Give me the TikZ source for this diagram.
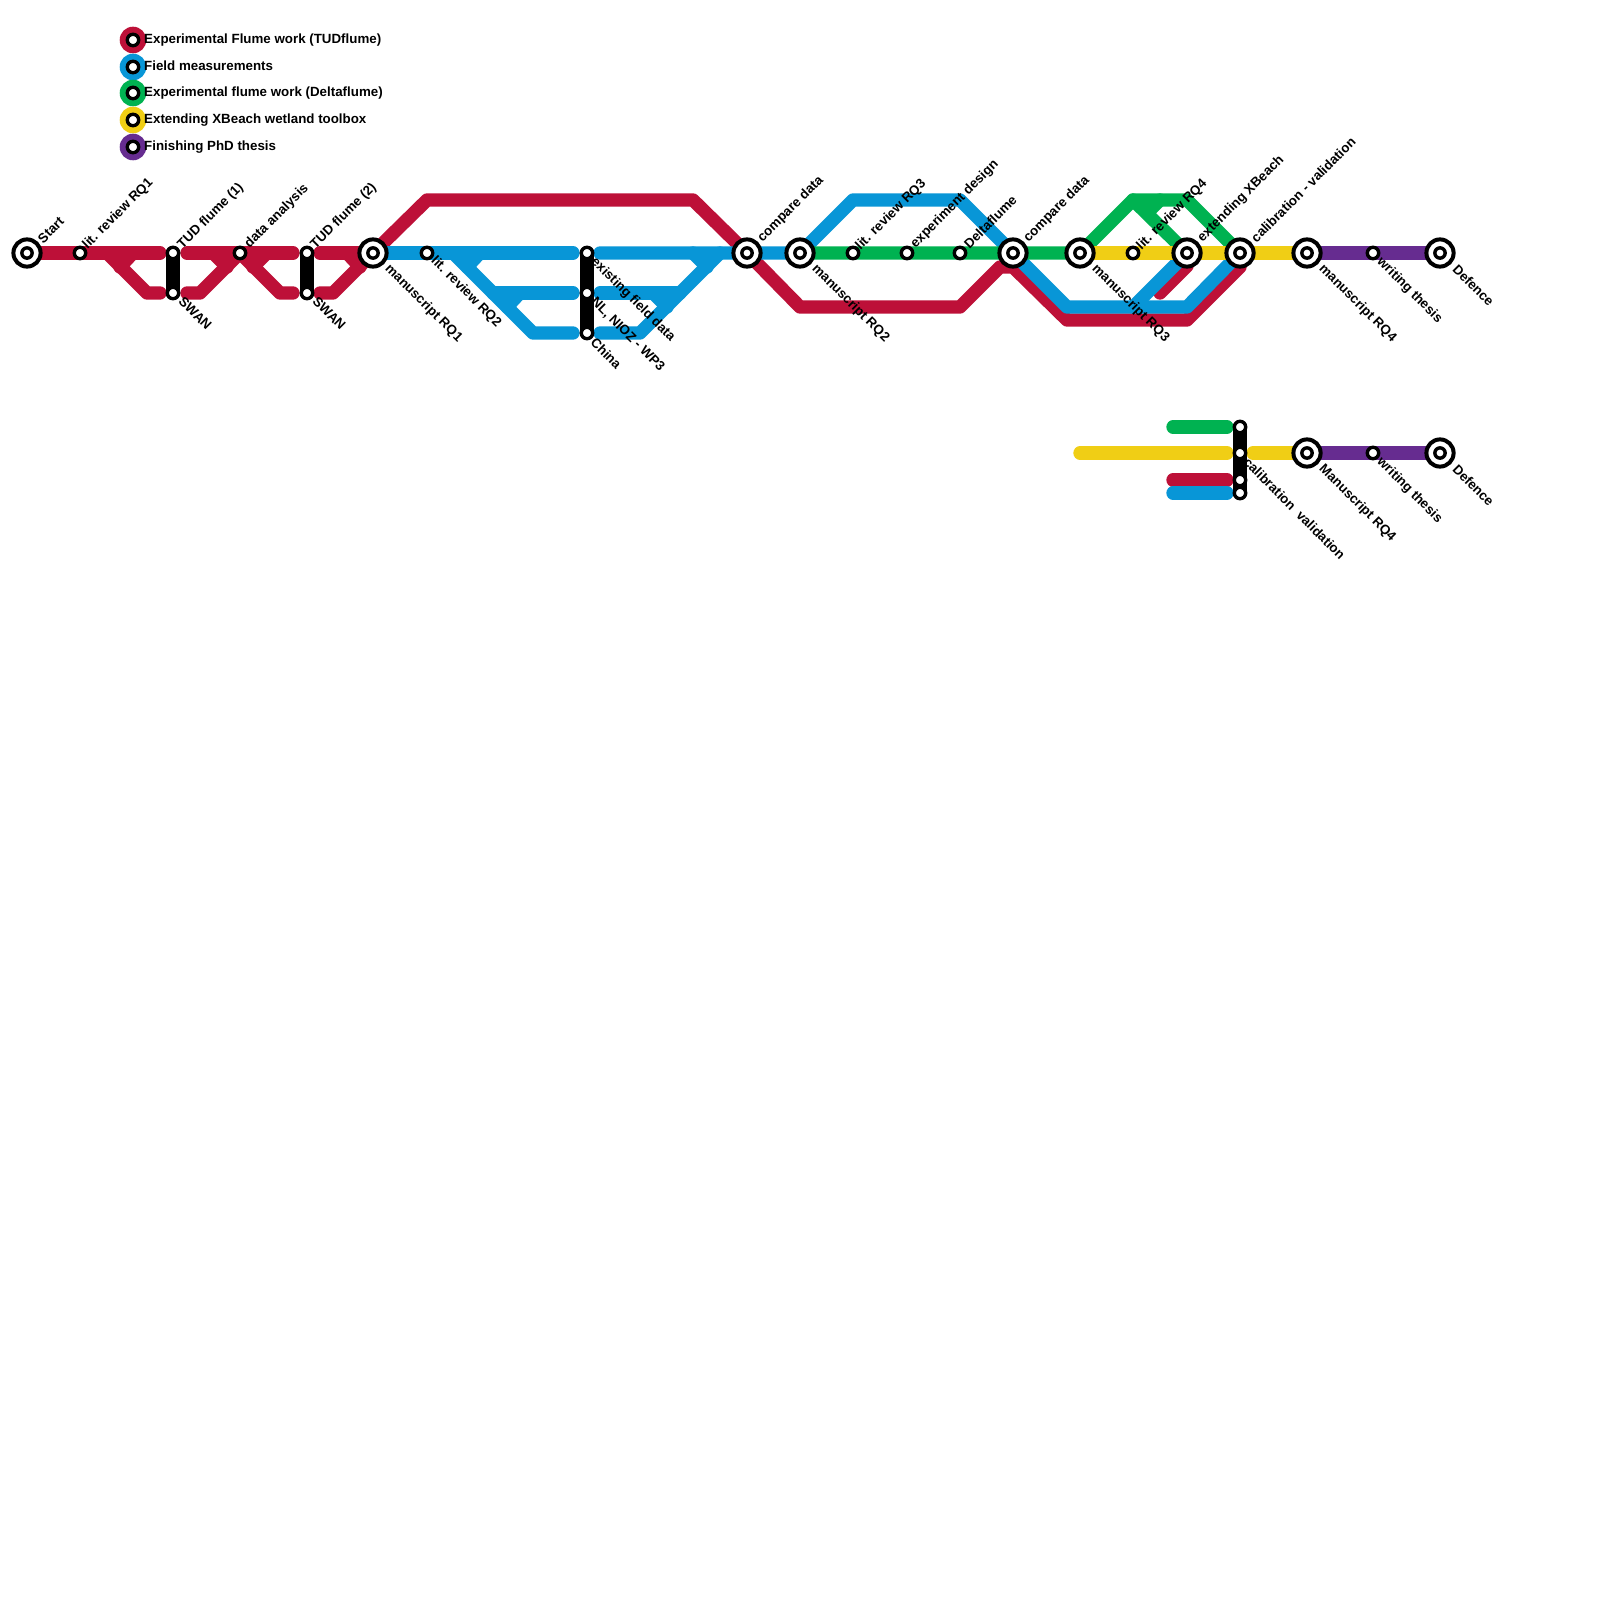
\documentclass[tikz,border=0pt]{standalone}
\usepackage{fontspec}
\setmainfont{Liberation Sans}
\definecolor{rd}{HTML}{BD1038}
\definecolor{bl}{HTML}{0896D7}
\definecolor{gr}{HTML}{00B251}
\definecolor{ye}{HTML}{F0CE15}
\definecolor{pu}{HTML}{662C90}
\pgfdeclarelayer{bg}
\pgfsetlayers{bg,main}
\tikzset{
 hub/.style={circle,draw=black,fill=white,line width=4pt,minimum size=27.2pt,inner sep=0pt,
  path picture={\fill[black] (path picture bounding box.center) circle[radius=6.9pt];
                \fill[white] (path picture bounding box.center) circle[radius=3.4pt];}},
 stop/.style={circle,draw=black,fill=white,line width=3.4pt,minimum size=11.4pt,inner sep=0pt},
 route/.style={line width=13.33pt,line cap=round,line join=round},
 bar/.style={line width=13.33pt,line cap=round,draw=black},
 chip/.style={circle,minimum size=26.6pt,inner sep=0pt},
 lbl/.style={font=\bfseries\fontsize{13.33pt}{14pt}\selectfont,text=black,inner sep=0pt},
 up/.style={lbl,rotate=45,anchor=west},
 dn/.style={lbl,rotate=-45,anchor=west},
 key/.style={lbl,anchor=west}
}
\begin{document}
\begin{tikzpicture}[x=1pt,y=-1pt]
\useasboundingbox (0,0) rectangle (1600,1600);
% legend
\foreach \n/\c/\y/\ty/\t in {a/rd/40/40/Experimental Flume work (TUDflume),b/bl/67/66/Field measurements,c/gr/93/93/Experimental flume work (Deltaflume),d/ye/120/120/Extending XBeach wetland toolbox,e/pu/147/147/Finishing PhD thesis}{
 \node[chip,fill=\c] (chip\n) at (133,\y) {};
 \node[stop] (dot\n) at (133,\y) {};
 \node[key] (key\n) at (144,\ty) {\t};
}
% upper-row stations
\node[hub]  (start) at (27,253) {};
\node[stop] (lit1) at (80,253) {};
\node[stop] (tud1) at (173,253) {};
\node[stop] (swan1) at (173,293) {};
\node[stop] (data) at (240,253) {};
\node[stop] (tud2) at (307,253) {};
\node[stop] (swan2) at (307,293) {};
\node[hub]  (ms1) at (373,253) {};
\node[stop] (lit2) at (427,253) {};
\node[stop] (field) at (587,253) {};
\node[stop] (nioz) at (587,293) {};
\node[stop] (china) at (587,333) {};
\node[hub]  (cmp1) at (747,253) {};
\node[hub]  (ms2) at (800,253) {};
\node[stop] (lit3) at (853,253) {};
\node[stop] (expd) at (907,253) {};
\node[stop] (delta) at (960,253) {};
\node[hub]  (cmp2) at (1013,253) {};
\node[hub]  (ms3) at (1080,253) {};
\node[stop] (lit4) at (1133,253) {};
\node[hub]  (xb) at (1187,253) {};
\node[hub]  (cal) at (1240,253) {};
\node[hub]  (ms4) at (1307,253) {};
\node[stop] (wri) at (1373,253) {};
\node[hub]  (def) at (1440,253) {};
% lower-row stations
\node[stop] (lg) at (1240,427) {};
\node[stop] (ly) at (1240,453) {};
\node[stop] (lr) at (1240,480) {};
\node[stop] (lb) at (1240,493) {};
\node[hub]  (lms) at (1307,453) {};
\node[stop] (lwri) at (1373,453) {};
\node[hub]  (ldef) at (1440,453) {};
% labels
\node[up] (tStart) at ([shift={(13,-12)}]start.center) {Start};
\node[up] (tLit1) at ([shift={(5,-6)}]lit1.center) {lit. review RQ1};
\node[up] (tTud1) at ([shift={(7,-6)}]tud1.center) {TUD flume (1)};
\node[up] (tData) at ([shift={(7,-7)}]data.center) {data analysis};
\node[up] (tTud2) at ([shift={(6,-6)}]tud2.center) {TUD flume (2)};
\node[up] (tCmp1) at ([shift={(13,-13)}]cmp1.center) {compare data};
\node[up] (tLit3) at ([shift={(5,-5)}]lit3.center) {lit. review RQ3};
\node[up] (tExp) at ([shift={(6,-7)}]expd.center) {experiment design};
\node[up] (tDel) at ([shift={(6,-7)}]delta.center) {Deltaflume};
\node[up] (tCmp2) at ([shift={(13,-13)}]cmp2.center) {compare data};
\node[up] (tLit4) at ([shift={(6,-5)}]lit4.center) {lit. review RQ4};
\node[up] (tXb) at ([shift={(13,-13)}]xb.center) {extending XBeach};
\node[up] (tCal) at ([shift={(13,-13)}]cal.center) {calibration - validation};
\node[dn] (tSw1) at ([shift={(8,6)}]swan1.center) {SWAN};
\node[dn] (tSw2) at ([shift={(8,6)}]swan2.center) {SWAN};
\node[dn] (tMs1) at ([shift={(14,14)}]ms1.center) {manuscript RQ1};
\node[dn] (tLit2) at ([shift={(6,6)}]lit2.center) {lit. review RQ2};
\node[dn] (tFld) at ([shift={(6,7)}]field.center) {existing field data};
\node[dn] (tNl) at ([shift={(6,7)}]nioz.center) {NL, NIOZ - WP3};
\node[dn] (tCh) at ([shift={(6,7)}]china.center) {China};
\node[dn] (tMs2) at ([shift={(14,14)}]ms2.center) {manuscript RQ2};
\node[dn] (tMs3) at ([shift={(14,14)}]ms3.center) {manuscript RQ3};
\node[dn] (tMs4) at ([shift={(14,14)}]ms4.center) {manuscript RQ4};
\node[dn] (tWr) at ([shift={(6,7)}]wri.center) {writing thesis};
\node[dn] (tDf) at ([shift={(15,14)}]def.center) {Defence};
\node[dn] (tLc) at ([shift={(6,7)}]ly.center) {calibration\ \ validation};
\node[dn] (tLm) at ([shift={(14,14)}]lms.center) {Manuscript RQ4};
\node[dn] (tLw) at ([shift={(6,7)}]lwri.center) {writing thesis};
\node[dn] (tLd) at ([shift={(15,14)}]ldef.center) {Defence};
% waypoints
\foreach \n/\x/\y in {
 r1/160/253,r2/107/253,r3/147/293,r4/160/293,r5/187/253,r6/293/253,r7/187/293,r8/200/293,
 r9/280/293,r10/293/293,r11/320/253,r12/320/293,r13/333/293,r14/427/200,r15/693/200,
 r16/800/307,r17/960/307,r18/1000/267,r19/1013/267,r20/1067/320,r21/1187/320,r22/1240/267,
 r23/1160/293,r24/1187/266,
 ra1/120/267,ra2/133/253,ra3/213/253,ra4/227/267,ra5/253/267,ra6/267/253,ra7/347/253,ra8/360/267,
 b1/573/253,b2/453/253,b3/533/333,b4/573/333,b5/493/293,b6/573/293,b7/600/253,b8/600/293,
 b9/680/293,b10/600/333,b11/640/333,b12/720/253,b13/853/200,b14/960/200,b15/1067/307,
 b16/1187/307,b17/1133/307,
 ba1/467/267,ba2/480/253,ba3/507/307,ba4/520/293,ba5/693/253,ba6/707/267,ba7/653/293,ba8/667/307,
 g1/1133/200,g2/1187/200,g3/1147/213,g4/1160/200,
 lg1/1173/427,lg2/1227/427,ly1/1080/453,ly2/1227/453,ly3/1253/453,
 lr1/1173/480,lr2/1227/480,lb1/1173/493,lb2/1227/493}
 {\coordinate (\n) at (\x,\y);}
\begin{pgfonlayer}{bg}
\fill[white] (0,0) rectangle (1600,1600);
% red
\draw[route,rd] (start.center) -- (r1);
\draw[route,rd] (r2) -- (r3) -- (r4);
\draw[route,rd] (ra1) -- (ra2);
\draw[route,rd] (r5) -- (r6);
\draw[route,rd] (ra3) -- (ra4);
\draw[route,rd] (ra5) -- (ra6);
\draw[route,rd] (ra7) -- (ra8);
\draw[route,rd] (r7) -- (r8) -- (data.center) -- (r9) -- (r10);
\draw[route,rd] (r11) -- (ms1.center);
\draw[route,rd] (r12) -- (r13) -- (ms1.center) -- (r14) -- (r15) -- (cmp1.center) -- (r16) -- (r17) -- (r18) -- (r19) -- (r20) -- (r21) -- (r22);
\draw[route,rd] (r23) -- (r24);
% blue
\draw[route,bl] (ms1.center) -- (b1);
\draw[route,bl] (b2) -- (b3) -- (b4);
\draw[route,bl] (ba1) -- (ba2);
\draw[route,bl] (ba3) -- (ba4);
\draw[route,bl] (b5) -- (b6);
\draw[route,bl] (b7) -- (ms2.center) -- (b13) -- (b14) -- (cmp2.center) -- (b15) -- (b16) -- (cal.center);
\draw[route,bl] (b8) -- (b9);
\draw[route,bl] (b10) -- (b11) -- (b12);
\draw[route,bl] (ba5) -- (ba6);
\draw[route,bl] (ba7) -- (ba8);
\draw[route,bl] (xb.center) -- (b17);
% green
\draw[route,gr] (ms2.center) -- (ms3.center) -- (g1) -- (g2) -- (cal.center);
\draw[route,gr] (g1) -- (xb.center);
\draw[route,gr] (g3) -- (g4);
% yellow, purple
\draw[route,ye] (ms3.center) -- (ms4.center);
\draw[route,pu] (ms4.center) -- (def.center);
% lower block
\draw[route,gr] (lg1) -- (lg2);
\draw[route,ye] (ly1) -- (ly2);
\draw[route,ye] (ly3) -- (lms.center);
\draw[route,pu] (lms.center) -- (ldef.center);
\draw[route,rd] (lr1) -- (lr2);
\draw[route,bl] (lb1) -- (lb2);
% transfer bars
\draw[bar] (tud1.center) -- (swan1.center);
\draw[bar] (tud2.center) -- (swan2.center);
\draw[bar] (field.center) -- (china.center);
\draw[bar] (lg.center) -- (lb.center);
\end{pgfonlayer}
\end{tikzpicture}
\end{document}
